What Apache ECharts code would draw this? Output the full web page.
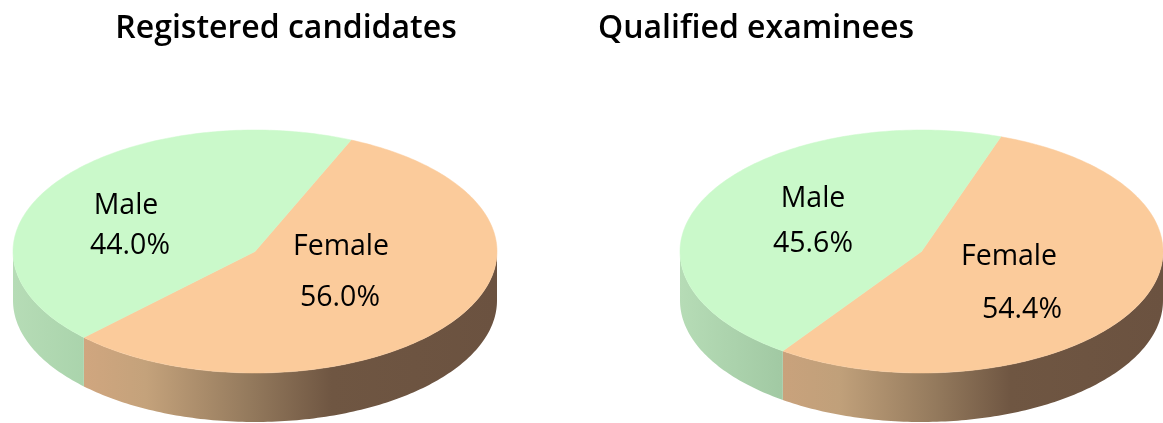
<!DOCTYPE html>
<html>
<head>
<meta charset="utf-8">
<title>Candidates by sex</title>
<script src="https://cdn.jsdelivr.net/npm/echarts@6/dist/echarts.min.js"></script>
<style>
    html, body { margin: 0; padding: 0; background: #fff; }
    #chart { width: 1163px; height: 423px; }
</style>
</head>
<body>
<div id="chart"></div>
<script>
// data
var chartTitles = ["Registered candidates", "Qualified examinees"];
var sexNames = ["Female", "Male"];
var registeredShares = [56.0, 44.0];
var qualifiedShares = [54.4, 45.6];

// colours and layout, same order as sexNames
var topColors = ["#fbcb9b", "#caf9ca"];
var FONT = '"Open Sans", "Noto Sans", sans-serif';
var leftPie = {
    cx: 255, cy: 251.5, rx: 242, ry: 121.5, depth: 49, startAngle: 23.4,
    nameAt: [[341, 247], [126, 206]], valueAt: [[340, 298], [130, 246]],
    sideStops: [
        [[0, "#d0a67f"], [0.15, "#c4a27b"], [0.4, "#947a5d"], [0.6, "#6f5642"], [1, "#6b5240"]],
        [[0, "#b6dcb6"], [1, "#aad4ac"]]
    ]
};
var rightPie = {
    cx: 921.5, cy: 251.5, rx: 241.5, ry: 121.5, depth: 49, startAngle: 19.2,
    nameAt: [[1009, 257], [813, 199]], valueAt: [[1022, 310], [813, 244]],
    sideStops: [
        [[0, "#c9a27c"], [0.15, "#c0a07a"], [0.4, "#947a5d"], [0.6, "#6f5642"], [1, "#6b5240"]],
        [[0, "#b6dcb6"], [1, "#a1c9a3"]]
    ]
};

// angle in degrees, clockwise from the top of the ellipse
function ellipsePoint(pie, deg, drop) {
    var r = deg * Math.PI / 180;
    return [pie.cx + pie.rx * Math.sin(r), pie.cy - pie.ry * Math.cos(r) + drop];
}

function arcPoints(pie, from, to, drop) {
    var pts = [];
    var steps = Math.max(2, Math.ceil(Math.abs(to - from)));
    for (var i = 0; i <= steps; i++) {
        pts.push(ellipsePoint(pie, from + (to - from) * i / steps, drop));
    }
    return pts;
}

function gradient(stops) {
    return new echarts.graphic.LinearGradient(0, 0, 1, 0, stops.map(function (s) {
        return { offset: s[0], color: s[1] };
    }));
}

function labelText(x, y, text) {
    return {
        type: "text",
        style: {
            x: x, y: y, text: text, fill: "#000",
            font: "28.5px " + FONT, textAlign: "center", textVerticalAlign: "middle"
        }
    };
}

function makeSeries(pie, shares) {
    return {
        type: "custom",
        coordinateSystem: "none",
        silent: true,
        data: shares,
        renderItem: function (params, api) {
            var i = params.dataIndex;
            var before = 0;
            for (var k = 0; k < i; k++) before += shares[k];
            var from = pie.startAngle + before * 3.6;
            var to = from + api.value(0) * 3.6;
            var children = [];

            // rim: only the part of the slice facing the viewer (90 to 270 deg)
            var a = Math.max(from, 90), b = Math.min(to, 270);
            if (b > a) {
                var rim = arcPoints(pie, a, b, 0).concat(arcPoints(pie, b, a, pie.depth));
                children.push({
                    type: "polygon",
                    shape: { points: rim },
                    style: { fill: gradient(pie.sideStops[i]) }
                });
            }

            var top = [[pie.cx, pie.cy]].concat(arcPoints(pie, from, to, 0));
            children.push({
                type: "polygon",
                shape: { points: top },
                style: { fill: topColors[i], stroke: topColors[i], lineWidth: 0.5 }
            });

            children.push(labelText(pie.nameAt[i][0], pie.nameAt[i][1], sexNames[i]));
            children.push(labelText(pie.valueAt[i][0], pie.valueAt[i][1], shares[i].toFixed(1) + "%"));
            return { type: "group", children: children };
        }
    };
}

var myChart = echarts.init(document.getElementById("chart"));
var option = {
    animation: false,
    backgroundColor: "#fff",
    title: [
        { text: chartTitles[0], left: 281, top: 8, textAlign: "center",
          textStyle: { fontFamily: FONT, fontSize: 32, fontWeight: 600, color: "#000" } },
        { text: chartTitles[1], left: 751, top: 8, textAlign: "center",
          textStyle: { fontFamily: FONT, fontSize: 32, fontWeight: 600, color: "#000" } }
    ],
    series: [makeSeries(leftPie, registeredShares), makeSeries(rightPie, qualifiedShares)]
};
myChart.setOption(option);
</script>
</body>
</html>
